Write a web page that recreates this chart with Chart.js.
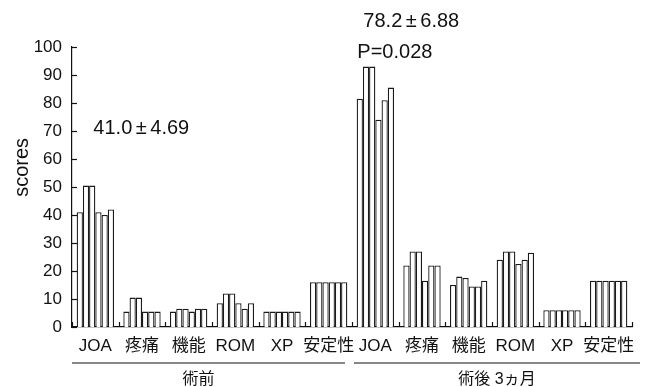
<!DOCTYPE html>
<html>
<head>
<meta charset="utf-8">
<script src="https://cdn.jsdelivr.net/npm/chart.js@4/dist/chart.umd.min.js"></script>
<style>
  html, body { margin: 0; padding: 0; background: #fff; }
  canvas { display: block; }
</style>
</head>
<body>
<canvas id="chart" width="648" height="387"></canvas>
<script>
// Score components shown for each period
const categories = ['JOA', '疼痛', '機能', 'ROM', 'XP', '安定性',
                    'JOA', '疼痛', '機能', 'ROM', 'XP', '安定性'];
const periods = ['術前', '術後 3ヵ月'];
const yTicks = [0, 10, 20, 30, 40, 50, 60, 70, 80, 90, 100];

// Six patients per component (same patient order in every group)
const preJOA   = [41, 50.5, 50.5, 41, 40, 42];
const prePain  = [5.5, 10.5, 10.5, 5.5, 5.5, 5.5];
const preFunc  = [5.5, 6.5, 6.5, 5.5, 6.5, 6.5];
const preROM   = [8.5, 12, 12, 8.5, 6.5, 8.5];
const preXP    = [5.5, 5.5, 5.5, 5.5, 5.5, 5.5];
const preStab  = [16, 16, 16, 16, 16, 16];

const postJOA  = [81.5, 93, 93, 74, 81, 85.5];
const postPain = [22, 27, 27, 16.5, 22, 22];
const postFunc = [15, 18, 17.5, 14.5, 14.5, 16.5];
const postROM  = [24, 27, 27, 22.5, 24, 26.5];
const postXP   = [6, 6, 6, 6, 6, 6];
const postStab = [16.5, 16.5, 16.5, 16.5, 16.5, 16.5];

// Summary statistics written over the JOA groups
const preSummary  = ['41.0', '±', '4.69'];
const postSummary = ['78.2', '±', '6.88'];
const pValue      = 'P=0.028';

const groups = [preJOA, prePain, preFunc, preROM, preXP, preStab,
                postJOA, postPain, postFunc, postROM, postXP, postStab];
const patientCount = preJOA.length;

const datasets = [];
for (let p = 0; p < patientCount; p++) {
  datasets.push({
    label: 'patient ' + (p + 1),
    data: groups.map(g => g[p]),
    backgroundColor: '#ffffff',
    borderColor: '#1a1a1a',
    borderWidth: 1.3,
    barPercentage: 1.0,
    categoryPercentage: 0.8
  });
}

const LATIN = '"Liberation Sans", Arial, sans-serif';
const MIXED = '"Liberation Sans", "Noto Sans CJK JP", sans-serif';
const INK = '#111111';

// mean ± SD written with a wide plus-minus sign
function drawSummary(ctx, parts, left, cy, size) {
  ctx.font = size + 'px ' + LATIN;
  ctx.textBaseline = 'middle';
  ctx.textAlign = 'left';
  let px = left;
  ctx.fillText(parts[0], px, cy);
  px += ctx.measureText(parts[0]).width;
  ctx.textAlign = 'center';
  ctx.fillText(parts[1], px + size * 0.45, cy);
  px += size * 0.9;
  ctx.textAlign = 'left';
  ctx.fillText(parts[2], px, cy);
}

const decorations = {
  id: 'decorations',
  afterDraw(chart) {
    const { ctx } = chart;
    const x = chart.scales.x;
    const y = chart.scales.y;
    const slot = (x.right - x.left) / categories.length;
    const boundary = i => x.left + i * slot;

    ctx.save();
    ctx.strokeStyle = INK;
    ctx.lineWidth = 1.2;

    // inward tick marks on the value axis
    yTicks.forEach(v => {
      const py = Math.round(y.getPixelForValue(v)) + 0.5;
      ctx.beginPath();
      ctx.moveTo(x.left, py);
      ctx.lineTo(x.left + 5, py);
      ctx.stroke();
    });

    // inward tick marks between the component groups
    for (let i = 0; i <= categories.length; i++) {
      const px = Math.round(boundary(i)) + 0.5;
      ctx.beginPath();
      ctx.moveTo(px, y.bottom);
      ctx.lineTo(px, y.bottom - 5);
      ctx.stroke();
    }

    // period brackets under the component labels
    const perPeriod = categories.length / periods.length;
    const lineY = y.bottom + 36;
    ctx.fillStyle = INK;
    ctx.font = '16px ' + MIXED;
    ctx.textAlign = 'center';
    ctx.textBaseline = 'middle';
    periods.forEach((name, k) => {
      const a = boundary(k * perPeriod) + (k === 0 ? 0 : 2);
      const b = boundary((k + 1) * perPeriod) + (k === 0 ? -7 : 8);
      ctx.beginPath();
      ctx.moveTo(a, lineY);
      ctx.lineTo(b, lineY);
      ctx.stroke();
      ctx.fillText(name, (a + b) / 2 + (k === 0 ? -10 : 0), lineY + 17);
    });

    // axis title
    ctx.save();
    ctx.translate(x.left - 50, y.getPixelForValue(57));
    ctx.rotate(-Math.PI / 2);
    ctx.font = '20px ' + LATIN;
    ctx.textAlign = 'center';
    ctx.textBaseline = 'middle';
    ctx.fillText('scores', 0, 0);
    ctx.restore();

    // summary annotations
    drawSummary(ctx, preSummary, x.getPixelForValue(0) - 2, y.getPixelForValue(70.8), 20);
    drawSummary(ctx, postSummary, x.getPixelForValue(6) - 12, y.getPixelForValue(109), 20);
    ctx.font = '20px ' + LATIN;
    ctx.textAlign = 'left';
    ctx.textBaseline = 'middle';
    ctx.fillText(pValue, x.getPixelForValue(6) - 18, y.getPixelForValue(98));

    ctx.restore();
  }
};

new Chart(document.getElementById('chart'), {
  type: 'bar',
  data: { labels: categories, datasets },
  options: {
    responsive: false,
    animation: false,
    layout: { padding: { left: 0, right: 16, top: 47, bottom: 0 } },
    plugins: {
      legend: { display: false },
      tooltip: { enabled: false }
    },
    scales: {
      x: {
        grid: { display: false, drawTicks: false },
        border: { display: true, color: INK, width: 1.2 },
        ticks: {
          color: INK,
          font: { family: MIXED, size: 17 },
          padding: 9,
          maxRotation: 0,
          minRotation: 0,
          autoSkip: false
        },
        afterFit(scale) { scale.height = 60; }
      },
      y: {
        min: 0,
        max: 100,
        grid: { display: false, drawTicks: false },
        border: { display: true, color: INK, width: 1.2 },
        ticks: {
          color: INK,
          font: { family: LATIN, size: 17 },
          stepSize: 10,
          padding: 10
        },
        afterFit(scale) { scale.width = 72; }
      }
    }
  },
  plugins: [decorations]
});
</script>
</body>
</html>
